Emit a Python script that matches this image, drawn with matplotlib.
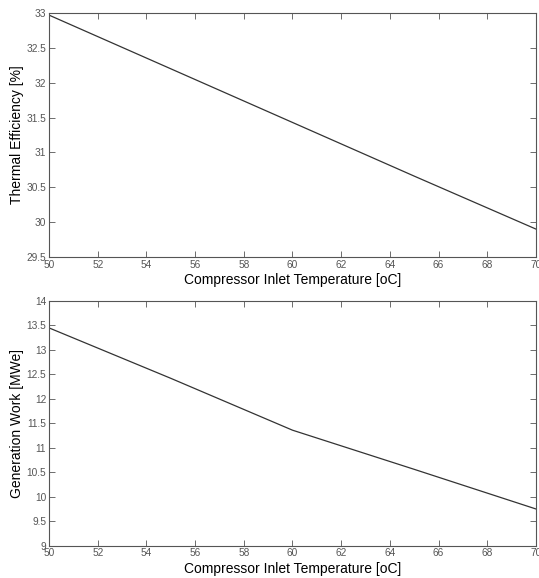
import matplotlib
matplotlib.use("Agg")
import matplotlib.pyplot as plt

# compressor inlet temperature [oC]
temp = [50, 55, 60, 65, 70]
# thermal efficiency [%]
eff = [32.97, 32.20, 31.43, 30.66, 29.90]
# generation work [MWe]
work = [13.45, 12.42, 11.36, 10.56, 9.75]

plt.rcParams["font.family"] = ["Liberation Sans", "DejaVu Sans"]

fig = plt.figure(figsize=(5.39, 5.78), dpi=100)
ax1 = fig.add_axes([0.0909, 0.5554, 0.9035, 0.4221])
ax2 = fig.add_axes([0.0909, 0.0559, 0.9035, 0.4234])

for ax, y, ylab, lim in [(ax1, eff, "Thermal Efficiency [%]", (29.5, 33)),
                         (ax2, work, "Generation Work [MWe]", (9, 14))]:
    ax.plot(temp, y, color="#333333", lw=0.9)
    ax.set_xlim(50, 70)
    ax.set_ylim(*lim)
    ax.set_xticks(range(50, 71, 2))
    ax.set_yticks([lim[0] + 0.5 * i for i in range(int((lim[1] - lim[0]) / 0.5) + 1)])
    ax.yaxis.set_major_formatter(matplotlib.ticker.FormatStrFormatter("%g"))
    ax.tick_params(direction="in", top=True, right=True, length=4, width=0.6,
                   labelsize=7.3, colors="#555555", labelcolor="#555555", pad=2)
    for s in ax.spines.values():
        s.set_color("#555555")
        s.set_linewidth(0.8)
    ax.set_xlabel("Compressor Inlet Temperature [oC]", fontsize=10, labelpad=2.5)
    ax.set_ylabel(ylab, fontsize=10, labelpad=2)

fig.savefig("out.png", dpi=100)
